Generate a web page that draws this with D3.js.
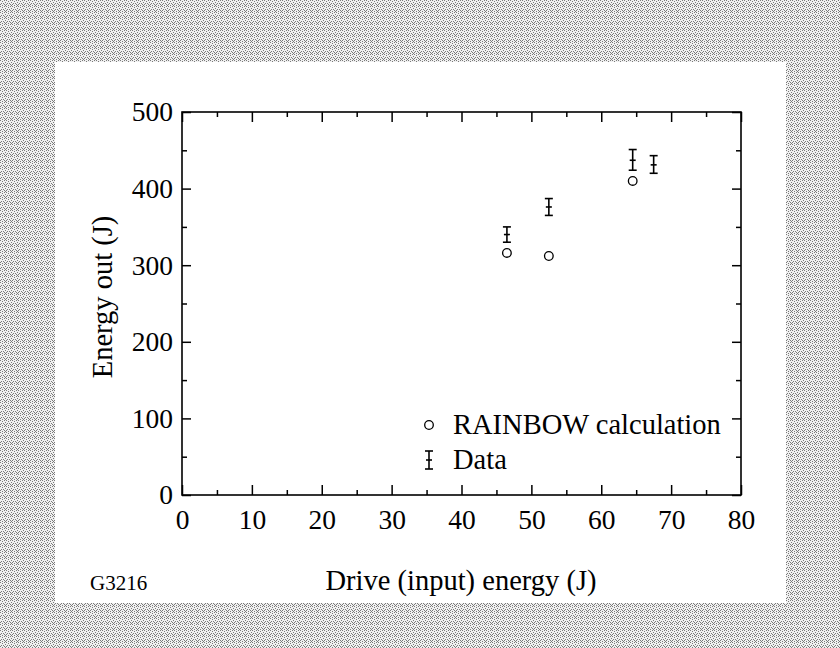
<html>
<head>
<script src="https://d3js.org/d3.v7.min.js"></script>
<style>
body {margin: 0; background: white;}
text {font-family: "Liberation Serif", "Times New Roman", serif; fill: black;}
</style>
</head>
<body>
<svg id="chart" width="840" height="648"></svg>
<script>
// RAINBOW calculation (open circles)
var calcDrive = [46.5, 52.5, 64.5]
var calcEnergy = [316, 312, 410]

// measured data (error bars)
var dataDrive = [46.5, 52.5, 64.5, 67.5]
var dataEnergy = [340, 376, 437, 431]
var dataLow = [330, 365, 424, 420]
var dataHigh = [350, 387, 451, 443]

var xTicks = [0, 10, 20, 30, 40, 50, 60, 70, 80]
var xMinor = [5, 15, 25, 35, 45, 55, 65, 75]
var yTicks = [0, 100, 200, 300, 400, 500]
var yMinor = [50, 150, 250, 350, 450]

var svg = d3.select("#chart")

// dithered grey border like the scanned page
var defs = svg.append("defs")
var pat = defs.append("pattern")
    .attr("id", "dither")
    .attr("width", 6).attr("height", 6)
    .attr("patternUnits", "userSpaceOnUse")
pat.append("rect").attr("width", 6).attr("height", 6).attr("fill", "#f0f0f0")
var dots = [[0,0],[2,1],[4,0],[1,3],[3,3],[5,2],[0,4],[2,5],[4,4],[5,5]]
pat.selectAll("rect.d").data(dots).enter().append("rect")
    .attr("class", "d")
    .attr("x", function(d) { return d[0] })
    .attr("y", function(d) { return d[1] })
    .attr("width", 1).attr("height", 1)
    .attr("fill", "#7a7a7a")

svg.append("rect").attr("width", 840).attr("height", 648).attr("fill", "url(#dither)")
svg.append("rect").attr("x", 55).attr("y", 62).attr("width", 731).attr("height", 541).attr("fill", "white")

var x = d3.scaleLinear().domain([0, 80]).range([182, 741])
var y = d3.scaleLinear().domain([0, 500]).range([495, 112])

function styleAxis(g) {
    g.select(".domain").remove()
    g.selectAll("line").attr("stroke", "black").attr("stroke-width", 1.5)
    g.selectAll("text").attr("font-size", 27.5).attr("font-family", "Liberation Serif, serif")
}

// bottom axis with labels
svg.append("g")
    .attr("transform", "translate(0,495)")
    .call(d3.axisBottom(x).tickValues(xTicks).tickSize(-10).tickPadding(14).tickFormat(d3.format("d")))
    .call(styleAxis)
svg.append("g")
    .attr("transform", "translate(0,495)")
    .call(d3.axisBottom(x).tickValues(xMinor).tickSize(-5).tickFormat(""))
    .call(styleAxis)

// top axis
svg.append("g")
    .attr("transform", "translate(0,112)")
    .call(d3.axisTop(x).tickValues(xTicks).tickSize(-10).tickFormat(""))
    .call(styleAxis)
svg.append("g")
    .attr("transform", "translate(0,112)")
    .call(d3.axisTop(x).tickValues(xMinor).tickSize(-5).tickFormat(""))
    .call(styleAxis)

// left axis with labels
svg.append("g")
    .attr("transform", "translate(182,0)")
    .call(d3.axisLeft(y).tickValues(yTicks).tickSize(-9).tickPadding(9).tickFormat(d3.format("d")))
    .call(styleAxis)
svg.append("g")
    .attr("transform", "translate(182,0)")
    .call(d3.axisLeft(y).tickValues(yMinor).tickSize(-5).tickFormat(""))
    .call(styleAxis)

// right axis
svg.append("g")
    .attr("transform", "translate(741,0)")
    .call(d3.axisRight(y).tickValues(yTicks).tickSize(-9).tickFormat(""))
    .call(styleAxis)
svg.append("g")
    .attr("transform", "translate(741,0)")
    .call(d3.axisRight(y).tickValues(yMinor).tickSize(-5).tickFormat(""))
    .call(styleAxis)

// frame
svg.append("rect")
    .attr("x", x(0)).attr("y", y(500))
    .attr("width", x(80) - x(0)).attr("height", y(0) - y(500))
    .attr("fill", "none").attr("stroke", "black").attr("stroke-width", 1.6)

// calculation circles
svg.append("g").selectAll("circle")
    .data(calcDrive)
    .enter()
    .append("circle")
    .attr("cx", function(d) { return x(d) })
    .attr("cy", function(d, i) { return y(calcEnergy[i]) })
    .attr("r", 4.3)
    .attr("fill", "none").attr("stroke", "black").attr("stroke-width", 1.3)

// error bars
function errorBar(g, cx, yTop, yMid, yBot) {
    g.append("line").attr("x1", cx).attr("x2", cx).attr("y1", yTop).attr("y2", yBot)
    g.append("line").attr("x1", cx - 4).attr("x2", cx + 4).attr("y1", yTop).attr("y2", yTop)
    g.append("line").attr("x1", cx - 4).attr("x2", cx + 4).attr("y1", yBot).attr("y2", yBot)
    g.append("line").attr("x1", cx - 3).attr("x2", cx + 3).attr("y1", yMid).attr("y2", yMid)
    g.selectAll("line").attr("stroke", "black").attr("stroke-width", 1.6)
}
var bars = svg.append("g")
dataDrive.forEach(function(d, i) {
    errorBar(bars.append("g"), x(d), y(dataHigh[i]), y(dataEnergy[i]), y(dataLow[i]))
})

// legend
svg.append("circle")
    .attr("cx", 429).attr("cy", 425).attr("r", 4.3)
    .attr("fill", "none").attr("stroke", "black").attr("stroke-width", 1.3)
svg.append("text")
    .attr("x", 453).attr("y", 434)
    .attr("font-size", 28.5)
    .text("RAINBOW calculation")
errorBar(svg.append("g"), 429, 451, 460, 469)
svg.append("text")
    .attr("x", 453).attr("y", 469)
    .attr("font-size", 28.5)
    .text("Data")

// axis titles
svg.append("text")
    .attr("x", 461).attr("y", 590)
    .attr("text-anchor", "middle")
    .attr("font-size", 28.5)
    .text("Drive (input) energy (J)")

svg.append("g")
    .attr("transform", "translate(112,297)")
    .append("text")
    .attr("text-anchor", "middle")
    .attr("transform", "rotate(-90)")
    .attr("font-size", 28.5)
    .text("Energy out (J)")

svg.append("text")
    .attr("x", 90).attr("y", 590)
    .attr("font-size", 21)
    .text("G3216")
</script>
</body>
</html>
